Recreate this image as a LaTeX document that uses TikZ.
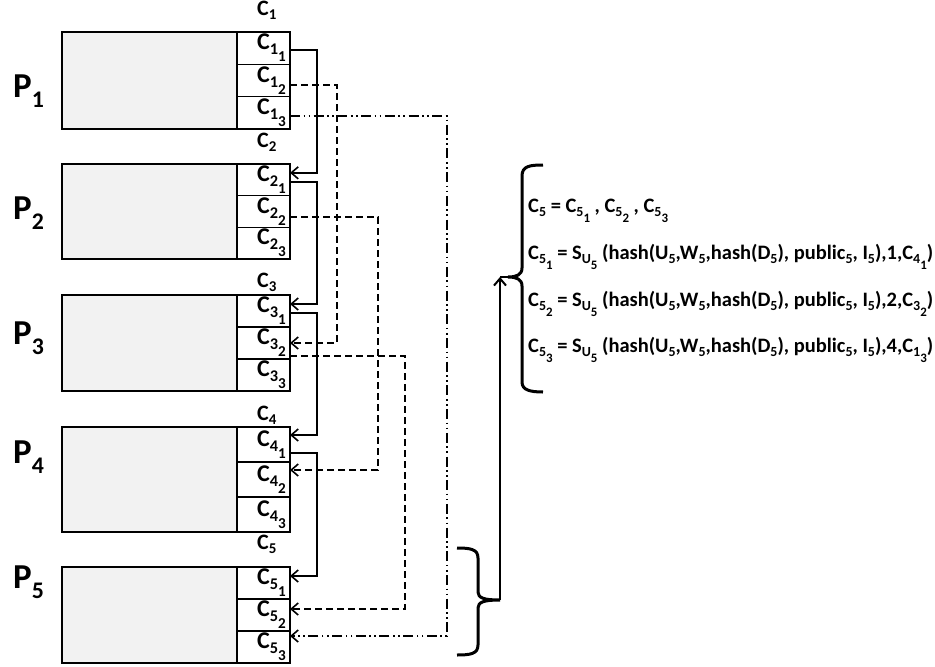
\documentclass[tikz,border=0pt]{standalone}
\usepackage{fontspec}
\setmainfont{Carlito}
\usepackage{graphicx}
\usetikzlibrary{arrows.meta}
\definecolor{boxgray}{HTML}{F2F2F2}
\newcommand\lo[2][0.22em]{\raisebox{-#1}{\scalebox{0.68}{#2}}}
\newcommand\ssb[2]{\raisebox{-0.22em}{\scalebox{0.68}{#1}}\raisebox{-0.5em}{\scalebox{0.63}{#2}}}
\begin{document}
\begin{tikzpicture}[x=1pt,y=-1pt,
  pbox/.style={draw, line width=1.5pt, fill=boxgray, inner sep=0pt, outer sep=0pt, anchor=north west, minimum width=175pt},
  cellbox/.style={draw, line width=1.5pt, fill=white, inner sep=0pt, outer sep=0pt, anchor=north west, minimum width=53pt},
  plabel/.style={anchor=base west, inner sep=0pt, font=\fontsize{35}{38}\selectfont\bfseries},
  clabel/.style={anchor=base west, inner sep=0pt, font=\fontsize{22}{25}\selectfont\bfseries},
  celltext/.style={anchor=base west, inner sep=0pt, font=\fontsize{24}{27}\selectfont\bfseries},
  eqtext/.style={anchor=base west, inner sep=0pt, font=\fontsize{20.5}{24}\selectfont\bfseries},
  link/.style={line width=1.6pt, -{Straight Barb[length=7pt,width=12pt]}},
  dashlink/.style={link, dash pattern=on 7pt off 4pt},
  dotlink/.style={link, dash pattern=on 10pt off 3.5pt on 1.6pt off 3.5pt on 1.6pt off 3.5pt},
  bracepath/.style={line width=3pt},
]
\useasboundingbox (0,0) rectangle (935,667);

\foreach \i/\t/\b in {1/32/129,2/164/259,3/295/391,4/427/532,5/567/663}{
  \pgfmathsetmacro\h{(\b-\t)/3}
  \node[pbox, minimum height=(\b-\t)*1pt] (p\i) at (62,\t) {};
  \foreach \j in {1,2,3}{
    \node[cellbox, minimum height=\h*1pt] (c\i\j) at (237,{\t+(\j-1)*\h}) {};
    \node[celltext] (t\i\j) at (257,{\t+(\j-0.5)*\h+1.5}) {C\ssb{\i}{\j}};
  }
}

% process labels
\node[plabel] (l1) at (13,97)  {P\lo[0.3em]{1}};
\node[plabel] (l2) at (13,219) {P\lo[0.3em]{2}};
\node[plabel] (l3) at (13,344) {P\lo[0.3em]{3}};
\node[plabel] (l4) at (13,463) {P\lo[0.3em]{4}};
\node[plabel] (l5) at (13,588) {P\lo[0.3em]{5}};

% column labels
\node[clabel] (k1) at (257,15)  {C\lo{1}};
\node[clabel] (k2) at (257,147) {C\lo{2}};
\node[clabel] (k3) at (257,287) {C\lo{3}};
\node[clabel] (k4) at (257,420) {C\lo{4}};
\node[clabel] (k5) at (257,549) {C\lo{5}};

% solid chain
\draw[link] ([yshift=-2pt]c11.east) -- ++(27,0) |- ([yshift=7pt]c21.east);
\draw[link] ([yshift=-2pt]c21.east) -- ++(27,0) |- ([yshift=7pt]c31.east);
\draw[link] ([yshift=-2pt]c31.east) -- ++(27,0) |- ([yshift=9.5pt]c41.east);
\draw[link] ([yshift=-8.5pt]c41.east) -- ++(27,0) |- ([yshift=7pt]c51.east);
% dashed
\draw[dashlink] ([yshift=-4.5pt]c12.east) -- ++(47,0) |- (c32.east);
\draw[dashlink] ([yshift=-5.5pt]c22.east) -- ++(88,0) |- ([yshift=9.5pt]c42.east);
\draw[dashlink] ([yshift=-13pt]c32.east) -- ++(115,0) |- ([yshift=6pt]c52.east);
% dash-dot-dot
\draw[dotlink] ([yshift=-3pt]c13.east) -- ++(157,0) |- ([yshift=11pt]c53.east);

% small brace
\coordinate (sb) at (500,600);
\draw[bracepath] (457,548) .. controls (470,548) and (478,549) .. (478,558) -- (478,592)
  .. controls (478,598) and (484,600) .. (sb) .. controls (484,600) and (478,602) .. (478,608)
  -- (478,645) .. controls (478,654) and (470,655) .. (457,655);

% big brace
\coordinate (bb) at (508,277);
\draw[bracepath] (543,165) .. controls (530,165) and (522,166) .. (522,176) -- (522,268)
  .. controls (522,275) and (516,277) .. (bb) .. controls (516,277) and (522,279) .. (522,286)
  -- (522,382) .. controls (522,390) and (530,392) .. (543,392);

\draw[line width=2pt, -{Straight Barb[length=7pt,width=12pt]}] (sb) -- (sb |- bb);
\draw[line width=2pt] (sb |- bb) -- (bb);

% equations
\node[eqtext] (e1) at (528,212) {C\lo{5} = C\ssb{5}{1} , C\ssb{5}{2} , C\ssb{5}{3}};
\node[eqtext] (e2) at (528,259) {C\ssb{5}{1} = S\ssb{U}{5} (hash(U\lo{5},W\lo{5},hash(D\lo{5}), public\lo{5}, I\lo{5}),1,C\ssb{4}{1})};
\node[eqtext] (e3) at (528,306) {C\ssb{5}{2} = S\ssb{U}{5} (hash(U\lo{5},W\lo{5},hash(D\lo{5}), public\lo{5}, I\lo{5}),2,C\ssb{3}{2})};
\node[eqtext] (e4) at (528,352) {C\ssb{5}{3} = S\ssb{U}{5} (hash(U\lo{5},W\lo{5},hash(D\lo{5}), public\lo{5}, I\lo{5}),4,C\ssb{1}{3})};
\end{tikzpicture}
\end{document}
